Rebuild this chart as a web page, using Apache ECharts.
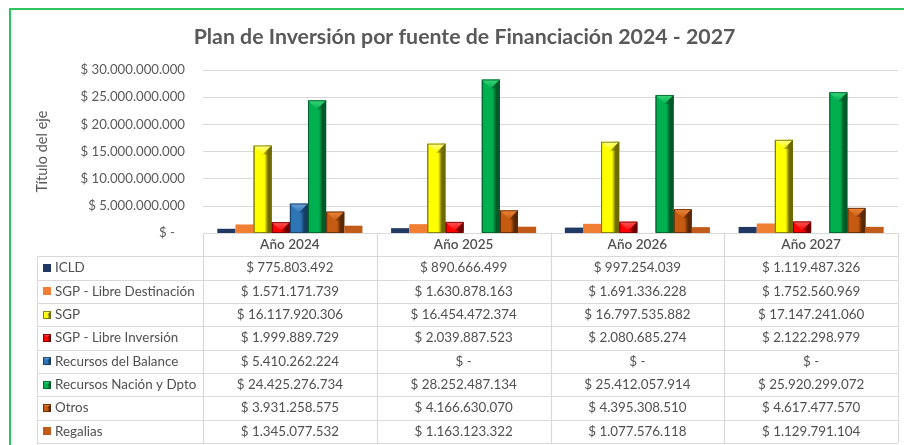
<!DOCTYPE html>
<html>
<head>
<meta charset="utf-8">
<script src="https://cdn.jsdelivr.net/npm/echarts@6/dist/echarts.min.js"></script>
<style>
  html, body { margin: 0; padding: 0; background: #ffffff; }
  #chart { width: 904px; height: 445px; }
</style>
</head>
<body>
<div id="chart"></div>
<script>
// Inversion plan by funding source, 2024-2027
var years = ['Año 2024', 'Año 2025', 'Año 2026', 'Año 2027'];
var sourceNames = [
  'ICLD',
  'SGP - Libre Destinación',
  'SGP',
  'SGP - Libre Inversión',
  'Recursos del Balance',
  'Recursos Nación y Dpto',
  'Otros',
  'Regalias'
];
var icld            = [775803492, 890666499, 997254039, 1119487326];
var sgpLibreDest    = [1571171739, 1630878163, 1691336228, 1752560969];
var sgp             = [16117920306, 16454472374, 16797535882, 17147241060];
var sgpLibreInv     = [1999889729, 2039887523, 2080685274, 2122298979];
var recursosBalance = [5410262224, 0, 0, 0];
var recursosNacion  = [24425276734, 28252487134, 25412057914, 25920299072];
var otros           = [3931258575, 4166630070, 4395308510, 4617477570];
var regalias        = [1345077532, 1163123322, 1077576118, 1129791104];
var yTicks = [0, 5000000000, 10000000000, 15000000000, 20000000000, 25000000000, 30000000000];

var seriesValues = [icld, sgpLibreDest, sgp, sgpLibreInv, recursosBalance, recursosNacion, otros, regalias];

// fill styles: flat bars have no bevel
var palette = [
  { base: '#1F3864', light: '#2A4A80', dark: '#14264A', bevel: false },
  { base: '#F07F33', light: '#F59A5C', dark: '#C8621C', bevel: false },
  { base: '#FFFF00', light: '#FFFF8A', dark: '#6E6A00', bevel: true },
  { base: '#FF0000', light: '#FF5A5A', dark: '#700000', bevel: true },
  { base: '#2E75B6', light: '#6FA3D8', dark: '#163C62', bevel: true },
  { base: '#00B050', light: '#3BD77A', dark: '#005A28', bevel: true },
  { base: '#C55A11', light: '#EE8A3C', dark: '#5A2806', bevel: true },
  { base: '#C25A1A', light: '#D0702E', dark: '#9A4510', bevel: false }
];

var W = 904, H = 445;
var GRID_LEFT = 203, GRID_RIGHT = 6, GRID_TOP = 70, GRID_BOTTOM = 212;
var CAT_GAP = 0.165;
var TEXT = '#595959';
var TABLE_TEXT = '#505050';
var LINE = '#D9D9D9';
var FONT = 'Lato, "Open Sans", sans-serif';

function money(v) {
  if (!v) return '$ -';
  return '$ ' + String(v).replace(/\B(?=(\d{3})+(?!\d))/g, '.');
}

// shapes for one beveled (or flat) bar
function barShapes(x, y, w, h, c) {
  var out = [];
  if (!c.bevel) {
    out.push({ type: 'rect', shape: { x: x, y: y, width: w, height: h },
      style: { fill: c.base } });
    return out;
  }
  out.push({ type: 'rect', shape: { x: x, y: y, width: w, height: h },
    style: { fill: new echarts.graphic.LinearGradient(0, 0, 1, 0, [
      { offset: 0, color: c.dark },
      { offset: 0.08, color: c.base },
      { offset: 0.6, color: c.base },
      { offset: 0.8, color: c.dark },
      { offset: 1, color: c.dark }
    ]) } });
  var tri = Math.min(w * 0.5, h);
  out.push({ type: 'polygon', shape: { points: [[x, y], [x + w, y], [x + w / 2, y + tri]] },
    style: { fill: new echarts.graphic.LinearGradient(0, 0, 0, 1, [
      { offset: 0, color: c.light },
      { offset: 1, color: c.base }
    ]) } });
  out.push({ type: 'polygon', shape: { points: [[x + w, y], [x + w, y + tri], [x + w / 2, y + tri]] },
    style: { fill: c.dark, opacity: 0.55 } });
  out.push({ type: 'rect', shape: { x: x + 0.5, y: y + 0.5, width: w - 1, height: h - 1 },
    style: { fill: 'none', stroke: c.dark, lineWidth: 0.8 } });
  return out;
}

var chart = echarts.init(document.getElementById('chart'), null, { renderer: 'canvas' });

var series = seriesValues.map(function (vals, sIdx) {
  return {
    name: sourceNames[sIdx],
    type: 'custom',
    data: vals.map(function (v, i) { return [i, v]; }),
    encode: { x: 0, y: 1 },
    renderItem: function (params, api) {
      var v = api.value(1);
      if (!v) return null;
      var cat = api.value(0);
      var p0 = api.coord([cat, 0]);
      var p1 = api.coord([cat, v]);
      var catW = api.size([1, 0])[0];
      var groupW = catW * (1 - CAT_GAP);
      var bw = groupW / seriesValues.length;
      var x = p0[0] - groupW / 2 + params.seriesIndex * bw;
      return { type: 'group', children: barShapes(x, p1[1], bw, p0[1] - p1[1], palette[params.seriesIndex]) };
    }
  };
});

// data table under the plot
var graphics = [];
var plotW = W - GRID_LEFT - GRID_RIGHT;
var colW = plotW / years.length;
var tableTop = H - GRID_BOTTOM;
var tableBottom = H - 2;
var rowH = (tableBottom - tableTop) / (sourceNames.length + 1);
var tableLeft = 37;
var tableRight = GRID_LEFT + plotW;

function hLine(x1, x2, y) {
  graphics.push({ type: 'line', silent: true,
    shape: { x1: x1, y1: Math.round(y) + 0.5, x2: x2, y2: Math.round(y) + 0.5 },
    style: { stroke: LINE, lineWidth: 1.2 } });
}
function vLine(x, y1, y2) {
  graphics.push({ type: 'line', silent: true,
    shape: { x1: Math.round(x) + 0.5, y1: y1, x2: Math.round(x) + 0.5, y2: y2 },
    style: { stroke: LINE, lineWidth: 1.2 } });
}

hLine(GRID_LEFT, tableRight, tableTop);
for (var r = 1; r <= sourceNames.length + 1; r++) {
  hLine(tableLeft, tableRight, tableTop + r * rowH);
}
vLine(tableLeft, tableTop + rowH, tableBottom);
for (var c = 0; c <= years.length; c++) {
  vLine(GRID_LEFT + c * colW, tableTop, tableBottom);
}

years.forEach(function (yl, i) {
  graphics.push({ type: 'text', silent: true,
    x: GRID_LEFT + (i + 0.5) * colW, y: tableTop + rowH / 2,
    style: { text: yl, fill: TABLE_TEXT, font: '600 13.6px ' + FONT, align: 'center', verticalAlign: 'middle' } });
});

sourceNames.forEach(function (name, sIdx) {
  var cy = tableTop + (sIdx + 1.5) * rowH;
  graphics.push({ type: 'group', x: 0, y: 0, silent: true,
    children: barShapes(43, Math.round(cy) - 4, 8, 8, palette[sIdx]) });
  graphics.push({ type: 'text', silent: true, x: 55, y: cy,
    style: { text: name, fill: TABLE_TEXT, font: '13.4px ' + FONT, align: 'left', verticalAlign: 'middle' } });
  seriesValues[sIdx].forEach(function (v, i) {
    graphics.push({ type: 'text', silent: true,
      x: GRID_LEFT + (i + 0.5) * colW, y: cy,
      style: { text: money(v), fill: TABLE_TEXT, font: '13.4px ' + FONT, align: 'center', verticalAlign: 'middle' } });
  });
});

// outer frame
graphics.push({ type: 'rect', silent: true,
  shape: { x: 10, y: 9, width: 930, height: 460 },
  style: { fill: 'none', stroke: '#2EC45E', lineWidth: 2 } });

// chart title
graphics.push({ type: 'text', silent: true, x: 464.5, y: 37,
  style: { text: 'Plan de Inversión por fuente de Financiación 2024 - 2027',
    fill: TEXT, font: 'bold 21.3px ' + FONT, align: 'center', verticalAlign: 'middle' } });

chart.setOption({
  animation: false,
  backgroundColor: '#ffffff',
  textStyle: { fontFamily: FONT },
  grid: { left: GRID_LEFT, right: GRID_RIGHT, top: GRID_TOP, bottom: GRID_BOTTOM, containLabel: false },
  xAxis: {
    type: 'category', data: years,
    axisLine: { show: false }, axisTick: { show: false }, axisLabel: { show: false },
    splitLine: { show: false }
  },
  yAxis: {
    type: 'value', min: yTicks[0], max: yTicks[yTicks.length - 1],
    interval: yTicks[1] - yTicks[0],
    name: 'Título del eje', nameLocation: 'middle', nameGap: 153, nameRotate: 90,
    nameTextStyle: { color: TEXT, fontSize: 14.5, fontFamily: FONT },
    axisLine: { show: false }, axisTick: { show: false },
    axisLabel: {
      color: TEXT, fontSize: 13.2, fontFamily: FONT, margin: 18,
      formatter: function (v) { return v === 0 ? '$ -   ' : money(v); }
    },
    splitLine: { lineStyle: { color: LINE, width: 1.2 } }
  },
  series: series,
  graphic: { elements: graphics }
});
</script>
</body>
</html>
